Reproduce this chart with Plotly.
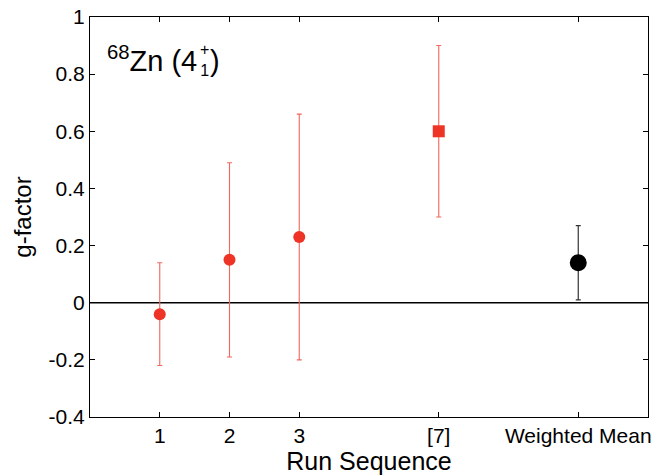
import plotly.graph_objects as go

# Data
run_positions = [1, 2, 3, 5]
run_labels = ["1", "2", "3", "[7]"]
g_runs = [-0.04, 0.15, 0.23]
g_runs_err = [0.18, 0.34, 0.43]
g_run7 = [0.60]
g_run7_err = [0.30]
mean_position = [7]
g_mean = [0.14]
g_mean_err = [0.13]

x_tickvals = [1, 2, 3, 5, 7]
x_ticktext = ["1", "2", "3", "[7]", "Weighted Mean"]
y_tickvals = [-0.4, -0.2, 0, 0.2, 0.4, 0.6, 0.8, 1.0]
y_ticktext = ["-0.4", "-0.2", "0", "0.2", "0.4", "0.6", "0.8", "1"]

RED = "#ee3327"
RED_ERR = "#f2665c"
FONT = "Liberation Sans, Arial, sans-serif"

fig = go.Figure()

fig.add_trace(go.Scatter(
    x=run_positions[:3], y=g_runs, mode="markers",
    marker=dict(symbol="circle", size=12, color=RED),
    error_y=dict(type="data", array=g_runs_err, color=RED_ERR, thickness=1.1, width=2.5),
    showlegend=False))

fig.add_trace(go.Scatter(
    x=run_positions[3:], y=g_run7, mode="markers",
    marker=dict(symbol="square", size=12, color=RED),
    error_y=dict(type="data", array=g_run7_err, color=RED_ERR, thickness=1.1, width=2.5),
    showlegend=False))

fig.add_trace(go.Scatter(
    x=mean_position, y=g_mean, mode="markers",
    marker=dict(symbol="circle", size=17, color="black"),
    error_y=dict(type="data", array=g_mean_err, color="#333333", thickness=1.2, width=2.5),
    showlegend=False))

fig.add_shape(type="line", xref="paper", yref="y", x0=0, x1=1, y0=0, y1=0,
              line=dict(color="black", width=1.6), layer="below")

def px_x(p):
    return (p - 90) / 558.0

def px_y(p):
    return (417 - p) / 400.0

fig.add_annotation(xref="paper", yref="paper", x=px_x(105), y=px_y(59),
                   xanchor="left", yanchor="middle", showarrow=False,
                   text="<sup>68</sup>Zn (4", font=dict(family=FONT, size=29, color="black"))
fig.add_annotation(xref="paper", yref="paper", x=px_x(204), y=px_y(60),
                   xanchor="center", yanchor="middle", showarrow=False,
                   text="+<br>1", font=dict(family=FONT, size=16, color="black"))
fig.add_annotation(xref="paper", yref="paper", x=px_x(215), y=px_y(61),
                   xanchor="center", yanchor="middle", showarrow=False,
                   text=")", font=dict(family=FONT, size=29, color="black"))

fig.update_layout(
    width=658, height=476,
    margin=dict(l=90, r=10, t=17, b=59),
    paper_bgcolor="white", plot_bgcolor="white",
    font=dict(family=FONT, color="black"),
)
fig.update_xaxes(
    range=[0, 8], tickvals=x_tickvals, ticktext=x_ticktext,
    ticks="inside", ticklen=5, tickcolor="black", tickwidth=1,
    showline=True, linecolor="black", linewidth=1, mirror="ticks",
    showgrid=False, zeroline=False, automargin=False,
    tickfont=dict(family=FONT, size=21, color="black"),
    title=dict(text="Run Sequence", font=dict(family=FONT, size=25, color="black"), standoff=4),
)
fig.update_yaxes(
    range=[-0.4, 1.0], tickvals=y_tickvals, ticktext=y_ticktext,
    ticks="inside", ticklen=5, tickcolor="black", tickwidth=1,
    showline=True, linecolor="black", linewidth=1, mirror="ticks",
    showgrid=False, zeroline=False, automargin=False,
    tickfont=dict(family=FONT, size=21, color="black"),
    title=dict(text="g-factor", font=dict(family=FONT, size=24, color="black"), standoff=10),
)

fig.write_html("out.html", config={"displayModeBar": False},
               post_script="document.body.style.margin='0px';document.body.style.overflow='hidden';")
